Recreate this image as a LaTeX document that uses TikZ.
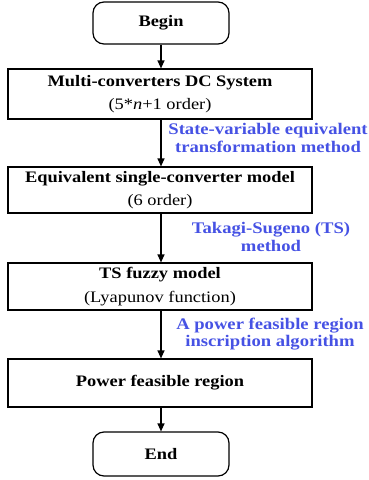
\documentclass[tikz,border=0pt]{standalone}
\usepackage{fontspec}
\setmainfont[FakeStretch=1.15]{Liberation Serif}
\usetikzlibrary{arrows.meta}
\definecolor{lblblue}{RGB}{70,82,228}
\begin{document}
\begin{tikzpicture}[x=1pt,y=-1pt,
  box/.style={draw,line width=1.2pt,minimum width=304pt,inner sep=0pt,align=center,font=\fontsize{16}{23.5}\selectfont},
  term/.style={draw,line width=1.2pt,rounded corners=11pt,minimum width=136pt,inner sep=0pt,font=\fontsize{16}{23}\selectfont\bfseries},
  lbl/.style={text=lblblue,align=center,font=\fontsize{16.2}{17.5}\selectfont\bfseries},
  arr/.style={line width=1.2pt,-{Triangle[length=8pt,width=7pt]}}]
\useasboundingbox (0,0) rectangle (368,480);
\node[term,minimum height=42pt] (begin) at (161,23) {Begin};
\node[box,minimum height=50pt] (b1) at (160,94) {\textbf{Multi-converters DC System}\\(5*\textit{n}+1 order)};
\node[box,minimum height=46pt] (b2) at (160,190) {\textbf{Equivalent single-converter model}\\(6 order)};
\node[box,minimum height=47pt] (b3) at (160,286.5) {\textbf{TS fuzzy model}\\(Lyapunov function)};
\node[box,minimum height=48pt] (b4) at (160,383) {\textbf{Power feasible region}};
\node[term,minimum height=44pt] (end) at (161,454) {End};
\node[lbl] (l1) at (268,138) {State-variable equivalent\\transformation method};
\node[lbl] (l2) at (271,237) {Takagi-Sugeno (TS)\\method};
\node[lbl] (l3) at (270,334) {A power feasible region\\inscription algorithm};
\draw[arr] (begin.south) -- (begin.south |- b1.north);
\draw[arr] (begin.south |- b1.south) -- (begin.south |- b2.north);
\draw[arr] (begin.south |- b2.south) -- (begin.south |- b3.north);
\draw[arr] (begin.south |- b3.south) -- (begin.south |- b4.north);
\draw[arr] (begin.south |- b4.south) -- (end.north);
\end{tikzpicture}
\end{document}
